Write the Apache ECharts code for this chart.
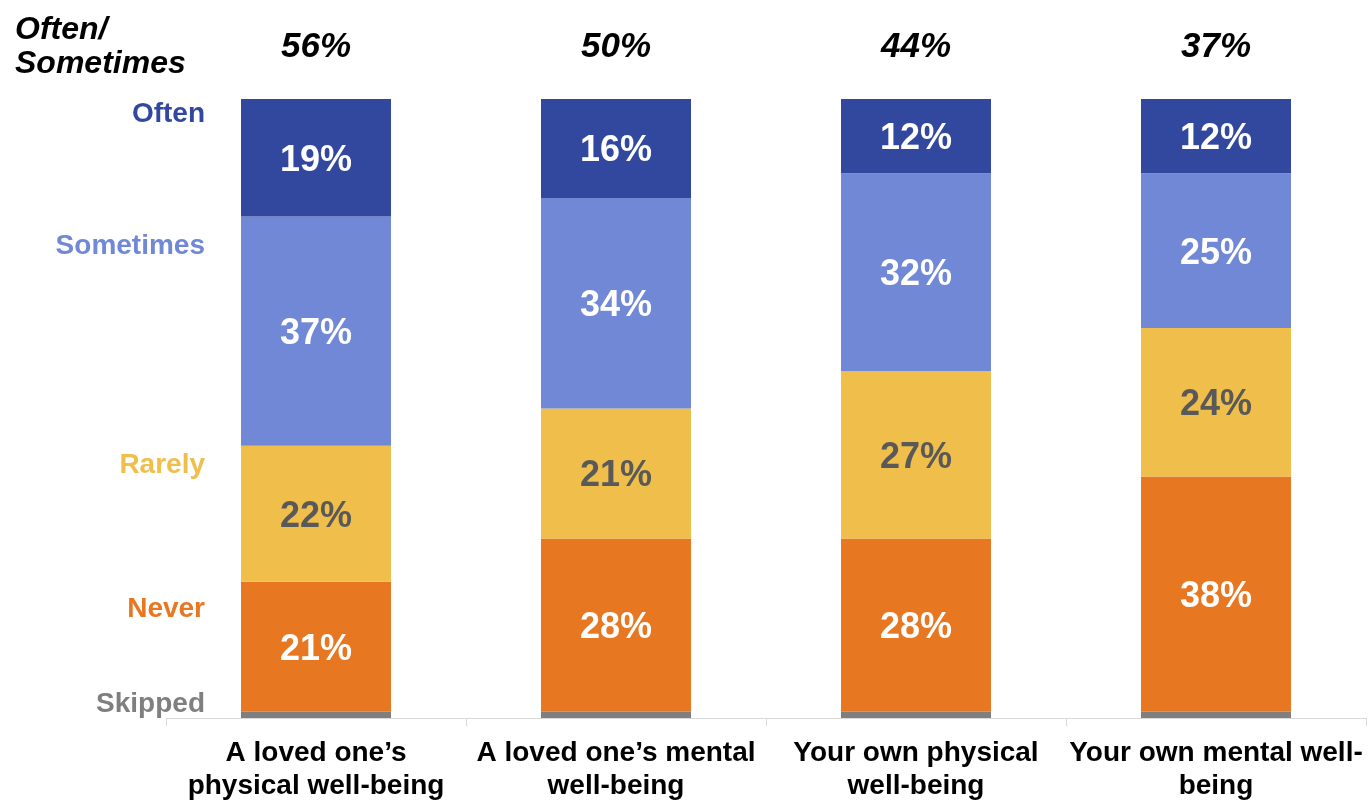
<!DOCTYPE html>
<html>
<head>
<meta charset="utf-8">
<script src="https://cdn.jsdelivr.net/npm/echarts@6/dist/echarts.min.js"></script>
<style>
  html, body { margin: 0; padding: 0; background: #ffffff; }
  #chart { width: 1368px; height: 801px; }
</style>
</head>
<body>
<div id="chart"></div>
<script>
// Topics asked about
const categories = [
  'A loved one\u2019s\nphysical well-being',
  'A loved one\u2019s mental\nwell-being',
  'Your own physical\nwell-being',
  'Your own mental well-\nbeing'
];

// Share of responses (%) per answer, stacked bottom to top
const skipped   = [1, 1, 1, 1];
const never     = [21, 28, 28, 38];
const rarely    = [22, 21, 27, 24];
const sometimes = [37, 34, 32, 25];
const often     = [19, 16, 12, 12];

// Combined "Often/Sometimes" share shown above each bar
const oftenSometimes = often.map((v, i) => v + sometimes[i]);

const FONT = "'Liberation Sans', Arial, Helvetica, sans-serif";

const colors = {
  skipped: '#7f7f7f',
  never: '#e87722',
  rarely: '#f0be4a',
  sometimes: '#7088d6',
  often: '#31489e'
};

function barSeries(name, data, color, labelColor) {
  return {
    name: name,
    type: 'bar',
    stack: 'total',
    barWidth: '50%',
    data: data,
    itemStyle: { color: color },
    label: labelColor ? {
      show: true,
      position: 'inside',
      offset: [0, 3],
      formatter: p => p.value + '%',
      color: labelColor,
      fontFamily: FONT,
      fontWeight: 'bold',
      fontSize: 36
    } : { show: false },
    emphasis: { disabled: true }
  };
}

const chart = echarts.init(document.getElementById('chart'), null, { renderer: 'canvas' });

// Answer names written down the left side, each in its series colour
const sideLabels = [
  { text: 'Often', y: 114, color: colors.often },
  { text: 'Sometimes', y: 246, color: colors.sometimes },
  { text: 'Rarely', y: 465, color: colors.rarely },
  { text: 'Never', y: 609, color: colors.never },
  { text: 'Skipped', y: 704, color: colors.skipped }
];

chart.setOption({
  animation: false,
  backgroundColor: '#ffffff',
  grid: { left: 166, right: 2, top: 99, bottom: 83, outerBoundsMode: 'none', containLabel: false },
  xAxis: [
    {
      type: 'category',
      data: categories,
      position: 'bottom',
      axisLine: { lineStyle: { color: '#d9d9d9', width: 1 } },
      axisTick: { show: true, length: 8, lineStyle: { color: '#d9d9d9' } },
      axisLabel: {
        interval: 0,
        margin: 19,
        color: '#000000',
        fontFamily: FONT,
        fontWeight: 'bold',
        fontSize: 28,
        lineHeight: 33,
        align: 'center'
      }
    },
    {
      type: 'category',
      data: categories,
      position: 'top',
      axisLine: { show: false },
      axisTick: { show: false },
      axisLabel: {
        interval: 0,
        margin: 52,
        verticalAlign: 'middle',
        color: '#000000',
        fontFamily: FONT,
        fontWeight: 'bold',
        fontStyle: 'italic',
        fontSize: 35,
        formatter: (v, i) => oftenSometimes[i] + '%'
      }
    }
  ],
  yAxis: {
    type: 'value',
    min: 0,
    max: 100,
    show: false,
    splitLine: { show: false }
  },
  series: [
    barSeries('Skipped', skipped, colors.skipped, null),
    barSeries('Never', never, colors.never, '#ffffff'),
    barSeries('Rarely', rarely, colors.rarely, '#595959'),
    barSeries('Sometimes', sometimes, colors.sometimes, '#ffffff'),
    barSeries('Often', often, colors.often, '#ffffff')
  ],
  graphic: [
    {
      type: 'text',
      left: 15,
      top: 13,
      style: {
        text: 'Often/\nSometimes',
        fontFamily: FONT,
        fontWeight: 'bold',
        fontStyle: 'italic',
        fontSize: 32,
        lineHeight: 34,
        fill: '#000000'
      }
    }
  ].concat(sideLabels.map(l => ({
    type: 'text',
    x: 205,
    y: l.y,
    style: {
      text: l.text,
      align: 'right',
      verticalAlign: 'middle',
      fontFamily: FONT,
      fontWeight: 'bold',
      fontSize: 28,
      fill: l.color
    }
  })))
});
</script>
</body>
</html>
